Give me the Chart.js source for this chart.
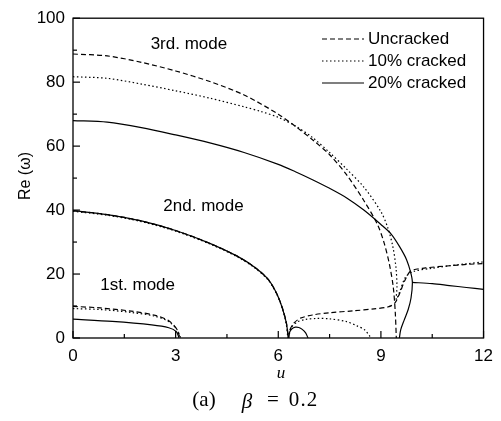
<!DOCTYPE html>
<html>
<head>
<meta charset="utf-8">
<script src="https://cdn.jsdelivr.net/npm/chart.js@4.4.1/dist/chart.umd.min.js"></script>
<style>
  body { margin: 0; background: #fff; }
  #wrap { width: 501px; height: 421px; }
</style>
</head>
<body>
<div id="wrap"><canvas id="myChart" width="501" height="421"></canvas></div>
<script>
// Courbes : paires [u, Re(ω)]
// Non fissuré (tirets)
const uncrackedMode1 = [[0,9.9],[0.8,9.4],[1.7,8.4],[2.4,7.1],[2.8,5.4],[3.02,3],[3.13,0]];
const uncrackedMode2 = [[0,39.8],[1,38.6],[2,36.6],[3,33.6],[4,29.6],[4.8,25.6],[5.3,22.2],[5.7,18.4],[5.95,14],[6.12,9.4],[6.24,4.6],[6.3,0]];
const uncrackedMode3 = [[0,88.8],[1,88.2],[2,86.2],[3,83.5],[4,80.2],[5,76],[6,70],[6.5,66.2],[7,62],[7.5,57.3],[8,51],[8.5,43],[8.9,35.5],[9.1,29.5],[9.25,23],[9.36,16],[9.42,8],[9.45,0]];
const uncrackedLow = [[6.3,0],[6.34,2.5],[6.45,4.6],[6.65,6.2],[7,7.2],[7.5,7.9],[8.2,8.5],[8.8,9.1],[9.2,9.7],[9.4,10.8],[9.55,14],[9.7,18],[9.88,21],[10.3,21.9],[11,22.6],[11.5,23],[12,23.3]];

// 10% fissuré (pointillés)
const cracked10Mode1 = [[0,9.2],[0.8,8.9],[1.7,8.0],[2.4,6.8],[2.8,5.1],[3.04,2.6],[3.15,0]];
const cracked10Mode2 = [[0,39.6],[1,38.4],[2,36.4],[3,33.4],[4,29.4],[4.8,25.4],[5.3,22],[5.7,18.2],[5.95,13.8],[6.12,9.2],[6.23,4.5],[6.28,0]];
const cracked10Mode3 = [[0,81.7],[1,81.2],[2,79.4],[3,77.3],[4,75],[5,72.3],[5.5,70.8],[6,69],[6.5,66.3],[7,62.7],[7.5,58],[8,52.8],[8.5,47.2],[9,39.5],[9.2,34.5],[9.35,28.5],[9.44,22],[9.47,16],[9.45,12],[9.55,14.5],[9.72,19],[9.95,20.8],[10.5,21.8],[11,22.6],[11.5,23.2],[12,23.8]];
const cracked10Low = [[6.3,0],[6.38,3.2],[6.55,5],[6.8,5.8],[7.1,6.1],[7.5,6],[8,5.1],[8.3,3.8],[8.53,2.5],[8.68,0.5],[8.72,0]];

// 20% fissuré (trait plein)
const cracked20Mode1 = [[0,5.9],[1.15,5.2],[2.3,4.1],[2.8,3.2],[3.02,2],[3.1,0]];
const cracked20Mode2 = [[0,39.8],[1,38.6],[2,36.6],[3,33.6],[4,29.6],[4.8,25.6],[5.3,22.2],[5.7,18.4],[5.95,14],[6.12,9.3],[6.24,4.5],[6.29,0]];
const cracked20Arc = [[6.3,0],[6.33,1.8],[6.4,2.9],[6.5,3.4],[6.6,3.3],[6.7,2.7],[6.8,1.6],[6.87,0]];
const cracked20Mode3 = [[0,68],[1,67.5],[2,65.8],[3,63.5],[4,61],[5,58],[6,54.3],[6.5,52],[7,49.5],[7.5,46.8],[8,43.8],[8.5,40],[9,35.5],[9.3,32.5],[9.55,28.5],[9.75,24.5],[9.87,20.5],[9.92,17.4],[9.88,12.5],[9.8,9],[9.68,5.6],[9.58,2.6],[9.54,0]];
const cracked20Right = [[9.92,17.4],[10.5,17],[11,16.4],[11.5,15.8],[12,15.2]];

const xTicks = [0, 3, 6, 9, 12];
const yTicks = [0, 20, 40, 60, 80, 100];
const legendLabels = ['Uncracked', '10% cracked', '20% cracked'];
const modeLabels = ['3rd. mode', '2nd. mode', '1st. mode'];

const FONT = '"Liberation Sans", Arial, sans-serif';
const SERIF = '"Liberation Serif", "Times New Roman", serif';
const styles = {
  uncracked: { borderDash: [5, 3] },
  cracked10: { borderDash: [1.5, 2.5] },
  cracked20: { borderDash: [] }
};

function serie(points, style) {
  return {
    data: points.map(([x, y]) => ({ x, y })),
    showLine: true,
    pointRadius: 0,
    borderColor: '#000',
    borderWidth: 1.2,
    borderDash: styles[style].borderDash,
    tension: 0.3,
    fill: false
  };
}

const datasets = [
  serie(uncrackedMode1, 'uncracked'),
  serie(uncrackedMode2, 'uncracked'),
  serie(uncrackedMode3, 'uncracked'),
  serie(uncrackedLow, 'uncracked'),
  serie(cracked10Mode1, 'cracked10'),
  serie(cracked10Mode2, 'cracked10'),
  serie(cracked10Mode3, 'cracked10'),
  serie(cracked10Low, 'cracked10'),
  serie(cracked20Mode1, 'cracked20'),
  serie(cracked20Mode2, 'cracked20'),
  serie(cracked20Arc, 'cracked20'),
  serie(cracked20Mode3, 'cracked20'),
  serie(cracked20Right, 'cracked20')
];

// Cadre, graduations, légende et textes
const decor = {
  id: 'decor',
  afterDraw(chart) {
    const { ctx, chartArea: a, scales: { x, y } } = chart;
    ctx.save();
    ctx.strokeStyle = '#000';
    ctx.lineWidth = 1.3;
    ctx.setLineDash([]);
    ctx.strokeRect(a.left, a.top, a.right - a.left, a.bottom - a.top);

    // graduations vers l'intérieur
    ctx.lineWidth = 1.2;
    for (let v = 0; v <= 12; v += 1.5) {
      const px = x.getPixelForValue(v);
      const len = v % 3 === 0 ? 7 : 4;
      ctx.beginPath(); ctx.moveTo(px, a.bottom); ctx.lineTo(px, a.bottom - len); ctx.stroke();
    }
    for (let v = 0; v <= 100; v += 10) {
      const py = y.getPixelForValue(v);
      const len = v % 20 === 0 ? 7 : 4;
      ctx.beginPath(); ctx.moveTo(a.left, py); ctx.lineTo(a.left + len, py); ctx.stroke();
    }

    // légende
    ctx.font = '17px ' + FONT;
    ctx.fillStyle = '#000';
    ctx.textBaseline = 'middle';
    const dashes = [styles.uncracked.borderDash, styles.cracked10.borderDash, styles.cracked20.borderDash];
    const rows = [39, 61, 83];
    legendLabels.forEach((label, i) => {
      ctx.lineWidth = 1.2;
      ctx.setLineDash(dashes[i]);
      ctx.beginPath(); ctx.moveTo(322, rows[i]); ctx.lineTo(364, rows[i]); ctx.stroke();
      ctx.setLineDash([]);
      ctx.fillText(label, 368, rows[i]);
    });

    // noms des modes
    const modePos = [[2.27, 91.9], [2.64, 41.3], [0.8, 16.6]];
    modeLabels.forEach((label, i) => {
      ctx.fillText(label, x.getPixelForValue(modePos[i][0]), y.getPixelForValue(modePos[i][1]));
    });

    // titres des axes
    ctx.textAlign = 'center';
    ctx.font = 'italic 17px ' + SERIF;
    ctx.fillText('u', 281, 374);
    ctx.font = '21px ' + SERIF;
    ctx.fillText('(a)', 204, 400);
    ctx.font = 'italic 21px ' + SERIF;
    ctx.fillText('β', 247, 402);
    ctx.font = '21px ' + SERIF;
    ctx.fillText('=', 273, 400);
    ctx.fillText('0', 294, 400);
    ctx.fillText('.', 303, 400);
    ctx.fillText('2', 312, 400);

    ctx.translate(26, 176);
    ctx.rotate(-Math.PI / 2);
    ctx.font = '16px ' + FONT;
    ctx.fillText('Re (ω)', 0, 0);
    ctx.restore();
  }
};

new Chart(document.getElementById('myChart').getContext('2d'), {
  type: 'scatter',
  data: { datasets },
  options: {
    responsive: false,
    animation: false,
    layout: { padding: { top: 16, right: 10, left: 0, bottom: 0 } },
    plugins: { legend: { display: false }, tooltip: { enabled: false } },
    scales: {
      x: {
        type: 'linear', min: 0, max: 12,
        afterBuildTicks: s => { s.ticks = xTicks.map(value => ({ value })); },
        afterFit: s => { s.height = 83; },
        grid: { display: false, drawTicks: false },
        border: { display: false },
        ticks: { padding: 8, color: '#000', font: { family: FONT, size: 17 } }
      },
      y: {
        type: 'linear', min: 0, max: 100,
        afterBuildTicks: s => { s.ticks = yTicks.map(value => ({ value })); },
        afterFit: s => { s.width = 73; },
        grid: { display: false, drawTicks: false },
        border: { display: false },
        ticks: { padding: 8, color: '#000', font: { family: FONT, size: 17 } }
      }
    }
  },
  plugins: [decor]
});
</script>
</body>
</html>
